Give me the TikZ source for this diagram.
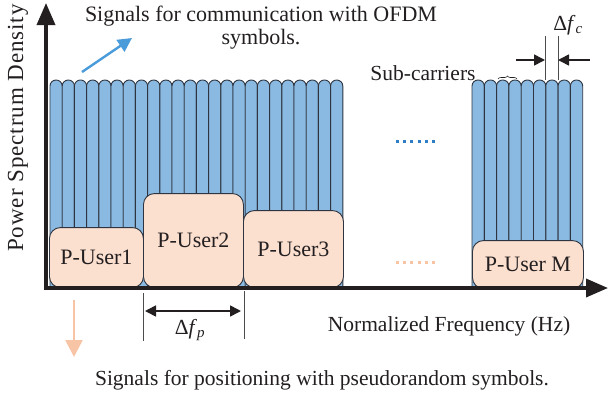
\documentclass[tikz,border=0pt]{standalone}
\usepackage{fontspec}
\setmainfont{Liberation Serif}
\usetikzlibrary{positioning,arrows.meta,decorations.pathreplacing}
\definecolor{BarBlue}{HTML}{8AB9E1}
\definecolor{BarEdge}{HTML}{2E3540}
\definecolor{SoftPeach}{HTML}{FBDFCF}
\definecolor{ArrowBlue}{HTML}{4A9BD9}
\definecolor{ArrowPeach}{HTML}{F8C4A6}
\definecolor{DotBlue}{HTML}{2F7DC4}
\definecolor{InkGray}{HTML}{231F20}

\begin{document}
\begin{tikzpicture}[x=1pt,y=-1pt,>=Latex,
    txt/.style={font=\fontsize{21.5}{23}\selectfont,text=InkGray,align=center,inner sep=0pt},
    carrier/.style={draw=BarEdge,fill=BarBlue,line width=.9pt,rounded corners=6pt},
    puser/.style={draw=BarEdge,fill=SoftPeach,line width=.9pt,rounded corners=11pt,anchor=south west,inner sep=0pt,font=\fontsize{22}{24}\selectfont,text=InkGray},
    axis/.style={line width=3.5pt,draw=InkGray,-{Triangle[length=22pt,width=18pt]}},
    gap/.style={line width=1.6pt,draw=InkGray,-{Triangle[length=11pt,width=11pt]}},
    tick/.style={line width=.6pt,draw=black!70}]
  \useasboundingbox (0,0) rectangle (608,394);

  % sub-carriers
  \foreach \i in {0,...,23}
    \draw[carrier] ({50+\i*12.2},288) -- ({50+\i*12.2},80) -- ({62.2+\i*12.2},80) -- ({62.2+\i*12.2},288);
  \foreach \i in {0,...,8}
    \draw[carrier] ({472+\i*12.3},288) -- ({472+\i*12.3},80) -- ({484.3+\i*12.3},80) -- ({484.3+\i*12.3},288);

  % positioning users
  \node[puser,minimum width=94pt,minimum height=60pt] (u1) at (49,288) {P-User1};
  \node[puser,minimum width=100pt,minimum height=94pt] (u2) at (143,288) {P-User2};
  \node[puser,minimum width=100pt,minimum height=77pt] (u3) at (243,288) {P-User3};
  \node[puser,minimum width=111pt,minimum height=48pt] (um) at (472,289) {P-User M};

  % axes
  \coordinate (origin) at (46,288);
  \coordinate (ytop) at (46,3);
  \coordinate (xend) at (608,288);
  \draw[axis] ([yshift=2pt]origin) -- (ytop);
  \draw[axis] ([xshift=-2pt]origin) -- (xend);

  % dots
  \draw[DotBlue,line width=3pt,dash pattern=on 3pt off 4.2pt] (396,141) -- (437,141);
  \draw[ArrowPeach,line width=3pt,dash pattern=on 3pt off 4.2pt] (396,262.5) -- (437,262.5);

  % labels
  \node[txt,font=\fontsize{22}{23}\selectfont] (comm) at (261,28) {Signals for communication with OFDM\\symbols.};
  \node[txt] (freq) at (449,326) {Normalized Frequency (Hz)};
  \node[txt] (pos) at (322,380) {Signals for positioning with pseudorandom symbols.};
  \node[txt,rotate=90,font=\fontsize{23}{23}\selectfont\addfontfeature{LetterSpace=4}] (psd) at (18,128) {Power Spectrum Density};
  \node[txt] (sub) at (423,73) {Sub-carriers};
  \draw[InkGray,line width=.6pt,decorate,decoration={brace,amplitude=3pt}] (498,79) -- (517,79);

  % signal arrows
  \coordinate (ba) at (82,72);
  \coordinate (bb) at (132,38);
  \draw[ArrowBlue,line width=2.4pt,-{Triangle[length=14pt,width=14pt]}] (ba) -- (bb);
  \coordinate (pa) at (74,300);
  \coordinate (pb) at (74,357);
  \draw[ArrowPeach,line width=2.4pt,-{Triangle[length=17pt,width=17pt]}] (pa) -- (pb);

  % carrier spacing
  \draw[tick] (545,36) -- (545,80);
  \draw[tick] (558,36) -- (558,80);
  \draw[gap] (516,60) -- (545,60);
  \draw[gap] (590,60) -- (558,60);
  \node[txt] (dfc) at (568,25) {Δ\textit{f}\textsubscript{\textit{c}}};

  % user spacing
  \draw[tick] (u2.south west) ++(0,5) -- ++(0,48);
  \draw[tick] (u2.south east) ++(0,3) -- ++(0,48);
  \draw[gap,{Triangle[length=11pt,width=11pt]}-{Triangle[length=11pt,width=11pt]}] (145,311) -- (241,311);
  \node[txt] (dfp) at (190,330) {Δ\textit{f}\textsubscript{\textit{p}}};
\end{tikzpicture}
\end{document}
